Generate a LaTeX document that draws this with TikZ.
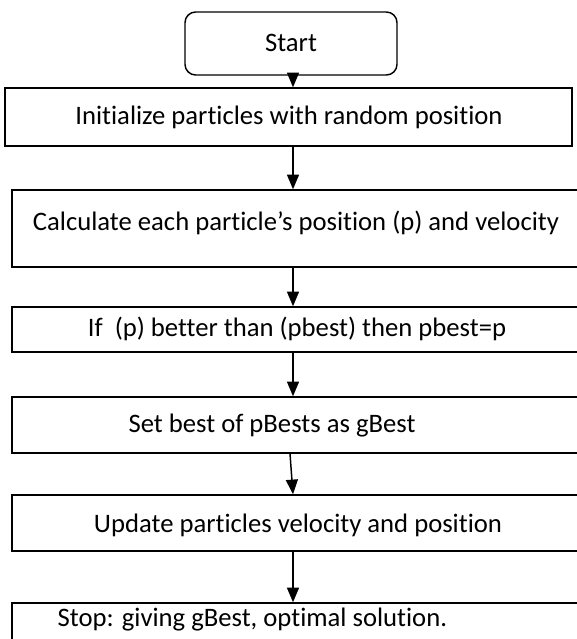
\documentclass[tikz,border=0pt]{standalone}
\usepackage{fontspec}
\setmainfont{Carlito}[Ligatures=CommonOff]
\usetikzlibrary{arrows.meta}

\tikzset{every picture/.style={line width=1.1pt}}
\tikzset{
  stepbox/.style={draw, rectangle, inner sep=0pt},
  steptext/.style={inner sep=0pt, font=\fontsize{20}{24}\selectfont},
  flow/.style={-{Triangle[length=11pt,width=9pt]}}
}

\begin{document}
\begin{tikzpicture}[x=0.75pt,y=0.75pt,yscale=-1,xscale=1]
		\useasboundingbox (0,0) rectangle (576,639);

		%Shape: Rounded Rect [id:start] 
		\draw (291,43.5) node (start) [stepbox, rounded corners=8pt, minimum width=159pt, minimum height=47.25pt] {};
		%Shape: Rectangle [id:init] 
		\draw (288.5,117) node (init) [stepbox, minimum width=425.25pt, minimum height=43.5pt] {};
		%Shape: Rectangle [id:calc] 
		\draw (302,228.5) node (calc) [stepbox, minimum width=435pt, minimum height=57.75pt] {};
		%Shape: Rectangle [id:pbest] 
		\draw (302,329.5) node (pbest) [stepbox, minimum width=435pt, minimum height=33.75pt] {};
		%Shape: Rectangle [id:gbest] 
		\draw (302,425) node (gbest) [stepbox, minimum width=435pt, minimum height=42pt] {};
		%Shape: Rectangle [id:update] 
		\draw (302,523) node (update) [stepbox, minimum width=435pt, minimum height=42pt] {};
		%Shape: Rectangle [id:stop] 
		\draw (302,631.5) node (stop) [stepbox, minimum width=435pt, minimum height=42.75pt] {};

		%uncomment if require: the arrows all run down at x=293
		\coordinate (ax) at (293,0);

		%Straight Lines [id:a1] 
		\draw [flow] (start.south -| ax) -- (init.north -| ax) ;
		%Straight Lines [id:a2] 
		\draw [flow] (init.south -| ax) -- (calc.north -| ax) ;
		%Straight Lines [id:a3] 
		\draw [flow] (calc.south -| ax) -- (pbest.north -| ax) ;
		%Straight Lines [id:a4] 
		\draw [flow] (pbest.south -| ax) -- (gbest.north -| ax) ;
		%Straight Lines [id:a5] 
		\draw [flow] (gbest.south -| 290,0) -- (update.north -| ax) ;
		%Straight Lines [id:a6] 
		\draw [flow] (update.south -| ax) -- (stop.north -| ax) ;

		% Text Node
		\draw (291,43) node (tstart) [steptext] {Start};
		% Text Node
		\draw (289,117) node (tinit) [steptext] {Initialize particles with random position};
		% Text Node
		\draw (296,223) node (tcalc) [steptext] {Calculate each particle’s position (p) and velocity};
		% Text Node
		\draw (297,329) node (tpbest) [steptext] {If\ \ (p) better than (pbest) then pbest=p};
		% Text Node
		\draw (272,426) node (tgbest) [steptext] {Set best of pBests as gBest};
		% Text Node
		\draw (298,525) node (tupdate) [steptext] {Update particles velocity and position};
		% Text Node
		\draw (57,620) node (tstop) [steptext, anchor=west] {Stop: giving gBest, optimal solution.};
	\end{tikzpicture}
\end{document}
